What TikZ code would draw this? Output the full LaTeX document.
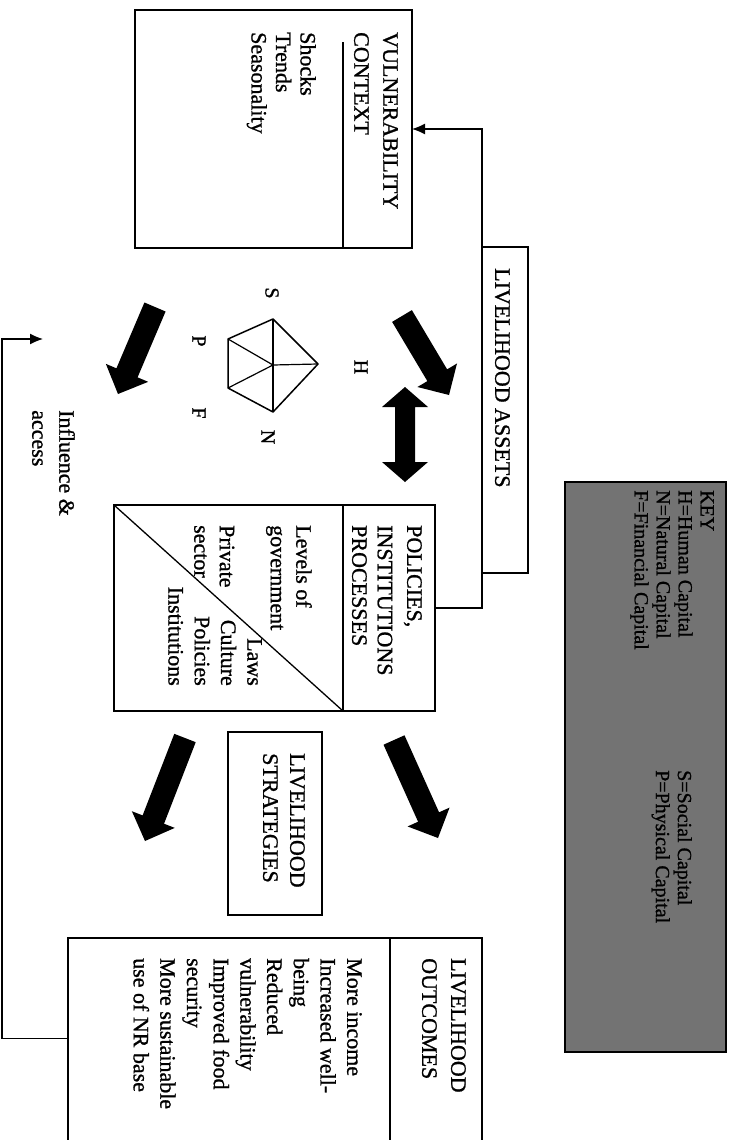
\documentclass[tikz,border=0pt]{standalone}
\usepackage{fontspec}
\setmainfont[FakeBold=1]{Liberation Serif}
\usepackage{tikz}
\usetikzlibrary{calc, arrows.meta}

\newcommand{\bodyfont}{\fontsize{22}{25.5}\selectfont}
\newcommand{\keyfont}{\fontsize{20}{22}\selectfont}
\newcommand{\capfont}{\fontsize{20}{22}\selectfont}

\tikzset{
  box/.style={draw, line width=1.6pt, inner sep=0pt, outer sep=0pt},
  rot/.style={rotate=-90, anchor=north west, inner sep=0pt, align=left, font=\bodyfont},
  caplbl/.style={rotate=-90, inner sep=0pt, font=\capfont},
  link/.style={line width=1.3pt, -{Latex[length=13pt,width=11pt]}},
  divider/.style={line width=1.3pt},
  arrowfill/.style={fill=black},
}

% fat block arrow: tail, tip
\newcommand{\fatarrow}[2]{
  \coordinate (fa-h) at ($(#2)!23pt!(#1)$);
  \fill[arrowfill] ($(#1)!11.5pt!90:(#2)$) -- ($(fa-h)!11.5pt!90:(#2)$)
    -- ($(fa-h)!23pt!90:(#2)$) -- (#2) -- ($(fa-h)!23pt!-90:(#2)$)
    -- ($(fa-h)!11.5pt!-90:(#2)$) -- ($(#1)!11.5pt!-90:(#2)$) -- cycle;
}
% fat arrow with two heads
\newcommand{\fatdarrow}[2]{
  \coordinate (fd-a) at ($(#1)!20pt!(#2)$);
  \coordinate (fd-b) at ($(#2)!20pt!(#1)$);
  \fill[arrowfill] (#1) -- ($(fd-a)!23pt!90:(#2)$) -- ($(fd-a)!10pt!90:(#2)$)
    -- ($(fd-b)!10pt!-90:(#1)$) -- ($(fd-b)!23pt!-90:(#1)$) -- (#2)
    -- ($(fd-b)!23pt!90:(#1)$) -- ($(fd-b)!10pt!90:(#1)$)
    -- ($(fd-a)!10pt!-90:(#2)$) -- ($(fd-a)!23pt!-90:(#2)$) -- cycle;
}

\begin{document}
\begin{tikzpicture}[x=1pt, y=-1pt]
  \useasboundingbox (0,0) rectangle (737,1140);

  % Boxes
  \node[box, minimum width=277pt, minimum height=238pt] (vc) at (273.5,129) {};
  \node[box, minimum width=46pt, minimum height=326pt] (la) at (505,410) {};
  \node[box, minimum width=321pt, minimum height=206pt] (pip) at (274.5,608) {};
  \node[box, minimum width=94pt, minimum height=183pt] (ls) at (275,823.5) {};
  \node[box, minimum width=414pt, minimum height=210pt] (lo) at (275,1043) {};
  \node[box, fill=black!55, minimum width=161pt, minimum height=570pt] (key) at (645.5,767) {};

  % Header dividers
  \draw[divider] ([xshift=208pt]vc.south west) -- ++(0,-206);
  \draw[divider] ([xshift=229pt]pip.south west) -- ([xshift=229pt]pip.north west);
  \draw[divider] (pip.north west) -- ([xshift=229pt]pip.south west);
  \draw[divider] ([xshift=322pt]lo.south west) -- ([xshift=322pt]lo.north west);

  % Box texts
  \node[rot] (vcHead) at (398,32) {VULNERABILITY\\[3.5pt]CONTEXT};
  \node[rot, font=\fontsize{22}{24.5}\selectfont] (vcBody) at (316,32) {Shocks\\Trends\\Seasonality};
  \node[rot] (laHead) at (510,268) {LIVELIHOOD ASSETS};
  \node[rot] (pipHead) at (422,525) {POLICIES,\\[4pt]INSTITUTIONS\\PROCESSES};
  \node[rot] (pipLeft) at (312,525) {Levels of\\government\\[25.5pt]Private\\sector};
  \node[rot, anchor=north east, align=right, font=\fontsize{22}{26.3}\selectfont] (pipRight) at (262,686) {Laws\\Culture\\Policies\\Institutions};
  \node[rot] (lsHead) at (305,753) {LIVELIHOOD\\[1.5pt]STRATEGIES};
  \node[rot] (loHead) at (466,958) {LIVELIHOOD\\[3.5pt]OUTCOMES};
  \node[rot, font=\fontsize{22}{26.7}\selectfont] (loBody) at (362,958)
    {More income\\Increased well-\\being\\Reduced\\vulnerability\\Improved food\\security\\More sustainable\\use of NR base};
  \node[rot] (infl) at (75,410) {Influence \&\\[1.5pt]access};

  % Key
  \node[rot, font=\keyfont] (keyA) at (714,490) {KEY\\H=Human Capital\\N=Natural Capital\\F=Financial Capital};
  \node[rot, font=\keyfont] (keyB) at (692,770) {S=Social Capital\\P=Physical Capital};

  % Asset pentagon
  \coordinate (pC) at (273,365);
  \coordinate (pR) at (318,364);
  \coordinate (pT) at (273,319);
  \coordinate (pUL) at (228,339);
  \coordinate (pLL) at (228,388);
  \coordinate (pB) at (273,412);
  \draw[line width=1.5pt, line join=round] (pR) -- (pT) -- (pUL) -- (pLL) -- (pB) -- cycle;
  \foreach \v in {pR,pT,pUL,pLL,pB}
    \draw[line width=1.2pt] (pC) -- (\v);
  \node[caplbl] (capS) at (272,293) {S};
  \node[caplbl] (capH) at (361,367) {H};
  \node[caplbl] (capP) at (199,341) {P};
  \node[caplbl] (capF) at (199,413) {F};
  \node[caplbl] (capN) at (268,437) {N};

  % Block arrows
  \coordinate (arrA) at (155,307);  \coordinate (arrAtip) at (118,394);
  \coordinate (arrB) at (402,316);  \coordinate (arrBtip) at (449,395);
  \coordinate (arrD) at (394,740);  \coordinate (arrDtip) at (438,838);
  \coordinate (arrE) at (185,738);  \coordinate (arrEtip) at (145,841);
  \coordinate (dblTop) at (405,387); \coordinate (dblBot) at (405,482);
  \fatarrow{arrA}{arrAtip}
  \fatarrow{arrB}{arrBtip}
  \fatarrow{arrD}{arrDtip}
  \fatarrow{arrE}{arrEtip}
  \fatdarrow{dblTop}{dblBot}

  % Connectors
  \draw[link] (pip.east) -| (la.south west) -- (la.north west) |- (vc.east);
  \coordinate (loopCorner) at (2,339);
  \coordinate (inflTip) at (43,339);
  \draw[link] ([yshift=4.5pt]lo.west) -| (loopCorner) -- (inflTip);
\end{tikzpicture}
\end{document}
